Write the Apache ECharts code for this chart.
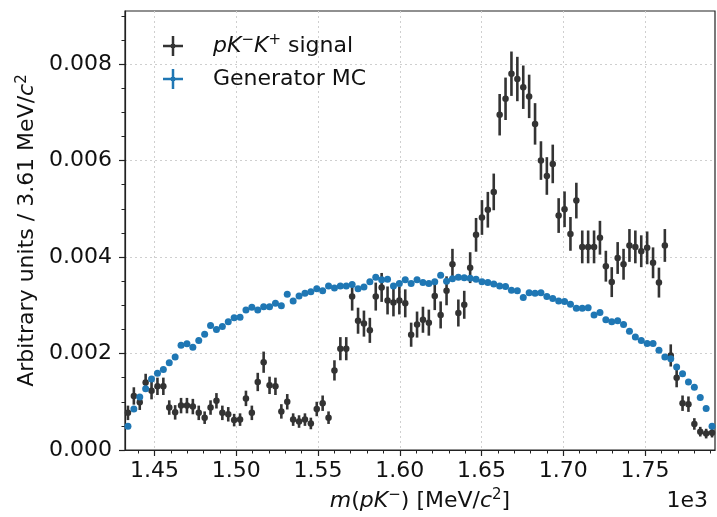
<!DOCTYPE html>
<html><head><meta charset="utf-8">
<script src="https://cdn.jsdelivr.net/npm/echarts@6/dist/echarts.min.js"></script>
<style>html,body{margin:0;padding:0;background:#fff}#c{width:717px;height:517px}</style>
</head><body><div id="c"></div>
<script>
// histogram definition (units of 1e3 MeV/c^2)
const massLo = 1.43195, massHi = 1.79278, nBins = 100;

const signal = [
0.00077,0.00112,0.00099,0.00140,0.00123,0.00132,0.00132,0.00088,0.00078,0.00092,
0.00092,0.00090,0.00077,0.00067,0.00088,0.00102,0.00077,0.00074,0.00062,0.00063,
0.00107,0.00077,0.00141,0.00182,0.00134,0.00132,0.00080,0.00100,0.00063,0.00059,
0.00063,0.00055,0.00085,0.00097,0.00067,0.00165,0.00210,0.00210,0.00318,0.00268,
0.00262,0.00248,0.00318,0.00337,0.00310,0.00306,0.00310,0.00304,0.00239,0.00260,
0.00270,0.00264,0.00319,0.00280,0.00330,0.00385,0.00284,0.00301,0.00378,0.00446,
0.00482,0.00498,0.00535,0.00695,0.00728,0.00780,0.00769,0.00752,0.00733,0.00676,
0.00600,0.00568,0.00593,0.00486,0.00499,0.00448,0.00517,0.00421,0.00421,0.00421,
0.00440,0.00381,0.00348,0.00398,0.00385,0.00424,0.00421,0.00412,0.00419,0.00388,
0.00347,0.00424,0.00196,0.00150,0.00097,0.00095,0.00054,0.00038,0.00034,0.00036];

const signalErr = [
0.00015,0.00018,0.00016,0.00018,0.00018,0.00018,0.00018,0.00015,0.00015,0.00016,
0.00016,0.00016,0.00015,0.00013,0.00015,0.00016,0.00015,0.00015,0.00013,0.00013,
0.00016,0.00015,0.00019,0.00022,0.00018,0.00018,0.00015,0.00016,0.00013,0.00013,
0.00013,0.00012,0.00015,0.00016,0.00013,0.00021,0.00024,0.00024,0.00029,0.00027,
0.00027,0.00026,0.00029,0.00030,0.00029,0.00029,0.00029,0.00029,0.00025,0.00027,
0.00027,0.00027,0.00029,0.00028,0.00030,0.00032,0.00028,0.00029,0.00032,0.00035,
0.00036,0.00037,0.00038,0.00043,0.00044,0.00046,0.00046,0.00045,0.00045,0.00043,
0.00040,0.00039,0.00040,0.00036,0.00037,0.00035,0.00037,0.00034,0.00034,0.00034,
0.00035,0.00032,0.00031,0.00033,0.00032,0.00034,0.00034,0.00033,0.00034,0.00032,
0.00031,0.00034,0.00023,0.00020,0.00016,0.00016,0.00012,0.00010,0.00010,0.00010];

const generatorMC = [
0.00049,0.00085,0.00110,0.00127,0.00147,0.00159,0.00167,0.00181,0.00193,0.00217,
0.00220,0.00213,0.00227,0.00240,0.00258,0.00250,0.00256,0.00266,0.00274,0.00275,
0.00290,0.00296,0.00290,0.00297,0.00297,0.00304,0.00299,0.00323,0.00309,0.00319,
0.00325,0.00328,0.00334,0.00330,0.00340,0.00336,0.00340,0.00340,0.00343,0.00334,
0.00338,0.00349,0.00358,0.00353,0.00354,0.00340,0.00345,0.00353,0.00345,0.00353,
0.00347,0.00345,0.00349,0.00362,0.00350,0.00355,0.00358,0.00357,0.00356,0.00354,
0.00349,0.00347,0.00344,0.00340,0.00339,0.00331,0.00330,0.00316,0.00326,0.00325,
0.00326,0.00318,0.00314,0.00309,0.00308,0.00302,0.00294,0.00294,0.00295,0.00280,
0.00285,0.00270,0.00266,0.00268,0.00260,0.00246,0.00234,0.00227,0.00221,0.00221,
0.00207,0.00193,0.00189,0.00172,0.00158,0.00141,0.00130,0.00109,0.00086,0.00049];

const xTicks = [1.45, 1.50, 1.55, 1.60, 1.65, 1.70, 1.75];
const yTicks = [0, 0.002, 0.004, 0.006, 0.008];
const yMax = 0.0091;

const binW = (massHi - massLo) / nBins;
const centers = signal.map((_, i) => massLo + (i + 0.5) * binW);
const xMinor = []; for (let k = 144; k <= 179; k++) xMinor.push(k / 100);
const yMinor = []; for (let k = 0; k <= 18; k++) yMinor.push(k * 0.0005);

const FONT = 'DejaVu Sans';
const INK = '#222';
const rich = {
  n: { fontSize: 22, fontFamily: FONT, color: '#111', lineHeight: 26 },
  it: { fontSize: 22, fontFamily: FONT, fontStyle: 'italic', color: '#111', lineHeight: 26 },
  sup: { fontSize: 15, fontFamily: FONT, color: '#111', verticalAlign: 'top', lineHeight: 14 }
};

const chart = echarts.init(document.getElementById('c'), null, { renderer: 'canvas' });
chart.setOption({
  animation: false,
  backgroundColor: '#fff',
  grid: { left: 125, top: 11, width: 590, height: 441, show: true, borderColor: INK, borderWidth: 1.2, backgroundColor: 'transparent' },
  title: { text: '1e3', right: 4, top: 485, textStyle: { fontSize: 22, fontFamily: FONT, fontWeight: 'normal', color: '#111' } },
  legend: {
    left: 158, top: 28, orient: 'vertical', itemWidth: 22, itemHeight: 20, itemGap: 11,
    data: [
      { name: 'signal', icon: 'path://M0,10.5H24V13.5H0Z M10.5,0H13.5V24H10.5Z M9.5,9.5H14.5V14.5H9.5Z' },
      { name: 'MC', icon: 'path://M0,10.5H24V13.5H0Z M10.5,0H13.5V24H10.5Z M9.5,9.5H14.5V14.5H9.5Z' }
    ],
    formatter: name => name === 'signal' ? '{it|pK}{sup|−}{it|K}{sup|+}{n| signal}' : '{n|Generator MC}',
    textStyle: { padding: [0, 0, 0, 24], rich: rich }
  },
  xAxis: [{
    type: 'value', min: massLo, max: massHi, position: 'bottom',
    name: '{it|m}{n|(}{it|pK}{sup|−}{n|) [MeV/}{it|c}{sup|2}{n|]}',
    nameLocation: 'middle', nameGap: 38, nameTextStyle: { rich: rich },
    axisLine: { show: true, onZero: false, lineStyle: { color: INK, width: 1.2 } },
    axisTick: { show: true, length: 6, customValues: xTicks, lineStyle: { color: INK, width: 1.2 } },
    axisLabel: { customValues: xTicks, margin: 10, fontSize: 22, fontFamily: FONT, color: '#111', formatter: v => v.toFixed(2) },
    splitLine: { show: true, lineStyle: { color: '#cfcfcf', type: [2, 3], width: 1 } }
  }, {
    type: 'value', min: massLo, max: massHi, position: 'bottom',
    axisLine: { show: false },
    axisTick: { show: true, length: 3.5, customValues: xMinor, lineStyle: { color: INK, width: 1 } },
    axisLabel: { show: false }, splitLine: { show: false }
  }],
  yAxis: [{
    type: 'value', min: 0, max: yMax, position: 'left',
    name: '{n|Arbitrary units / 3.61 MeV/}{it|c}{sup|2}',
    nameLocation: 'middle', nameGap: 84, nameTextStyle: { rich: rich },
    axisLine: { show: true, onZero: false, lineStyle: { color: INK, width: 1.2 } },
    axisTick: { show: true, length: 6, customValues: yTicks, lineStyle: { color: INK, width: 1.2 } },
    axisLabel: { customValues: yTicks, margin: 13, fontSize: 22, fontFamily: FONT, color: '#111', formatter: v => v.toFixed(3) },
    splitLine: { show: true, lineStyle: { color: '#cfcfcf', type: [2, 3], width: 1 } }
  }, {
    type: 'value', min: 0, max: yMax, position: 'left',
    axisLine: { show: false },
    axisTick: { show: true, length: 3.5, customValues: yMinor, lineStyle: { color: INK, width: 1 } },
    axisLabel: { show: false }, splitLine: { show: false }
  }],
  series: [
    {
      type: 'custom', name: 'signalErr', xAxisIndex: 0, yAxisIndex: 0, silent: true, z: 2,
      data: centers.map((x, i) => [x, signal[i] - signalErr[i], signal[i] + signalErr[i]]),
      encode: { x: 0, y: [1, 2] },
      renderItem: (params, api) => {
        const a = api.coord([api.value(0), api.value(1)]);
        const b = api.coord([api.value(0), api.value(2)]);
        return { type: 'line', shape: { x1: a[0], y1: a[1], x2: b[0], y2: b[1] }, style: { stroke: '#333', lineWidth: 2.6 } };
      }
    },
    {
      type: 'scatter', name: 'signal', xAxisIndex: 0, yAxisIndex: 0, z: 3,
      symbol: 'circle', symbolSize: 6.5, itemStyle: { color: '#333', opacity: 1 },
      data: centers.map((x, i) => [x, signal[i]])
    },
    {
      type: 'scatter', name: 'MC', xAxisIndex: 0, yAxisIndex: 0, z: 4,
      symbol: 'circle', symbolSize: 7, itemStyle: { color: '#1f77b4', opacity: 1 },
      data: centers.map((x, i) => [x, generatorMC[i]])
    }
  ]
});
</script></body></html>
